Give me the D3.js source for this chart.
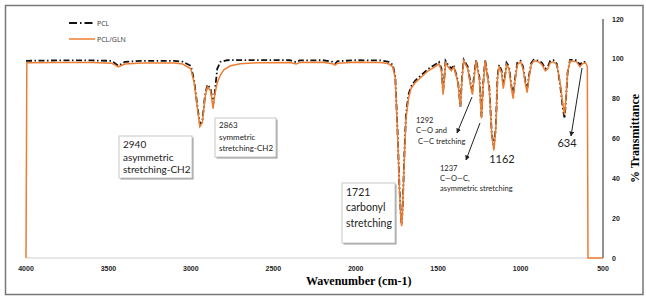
<!DOCTYPE html>
<html>
<head>
<meta charset="utf-8">
<script src="https://cdn.jsdelivr.net/npm/d3@7"></script>
<style>
  body { margin: 0; background: #fff; }
  svg { display: block; }
</style>
</head>
<body>
<div id="chart"></div>
<script>
// wavenumber (cm-1) / % transmittance
var glnWave = [4000, 3995, 3800, 3600, 3480, 3440, 3400, 3300, 3100, 3050, 3000, 2980, 2960, 2945, 2930, 2915, 2900, 2880, 2865, 2855, 2840, 2820, 2800, 2760, 2700, 2600, 2400, 2360, 2340, 2200, 2140, 2125, 2110, 2000, 1850, 1800, 1775, 1760, 1745, 1735, 1725, 1721, 1715, 1705, 1695, 1680, 1665, 1640, 1600, 1560, 1520, 1495, 1480, 1470, 1460, 1455, 1440, 1420, 1405, 1395, 1380, 1365, 1355, 1345, 1320, 1300, 1292, 1280, 1270, 1250, 1237, 1228, 1215, 1190, 1175, 1162, 1150, 1140, 1130, 1115, 1105, 1095, 1085, 1070, 1055, 1045, 1035, 1020, 1000, 985, 970, 960, 950, 935, 920, 890, 870, 850, 835, 820, 800, 780, 760, 745, 733, 725, 715, 700, 660, 640, 625, 605, 595, 591, 500];
var glnValues = [0, 98, 98.2, 98.1, 97.8, 96, 97.4, 97.9, 97.9, 97.4, 95, 88, 75, 66, 68, 80, 86, 84, 75, 82, 88, 92, 94.5, 96.5, 97.5, 98, 98.2, 97.4, 98.2, 98.3, 97.5, 96.8, 97.8, 98.3, 98.2, 97.5, 96, 90, 60, 35, 18, 16, 25, 50, 70, 80, 85, 88, 91, 94, 96, 97.5, 94, 82, 92, 98, 96, 94, 96, 93, 88, 76, 90, 99, 95, 85, 82, 92, 99, 90, 70, 85, 99, 85, 62, 54, 65, 90, 96, 93, 85, 90, 97, 95, 85, 80, 88, 97, 98.5, 95, 87, 83, 90, 97, 99, 98.5, 97, 94, 95, 98, 98.5, 97, 88, 78, 72, 80, 93, 99, 98.5, 96, 97.5, 98, 96, 0, 0];

var pclWave = [4000, 3800, 3600, 3480, 3440, 3400, 3300, 3100, 3050, 3000, 2980, 2960, 2945, 2930, 2915, 2900, 2880, 2865, 2855, 2840, 2820, 2780, 2600, 2400, 2360, 2340, 2200, 2140, 2125, 2110, 2000, 1850, 1800, 1775, 1760, 1745, 1735, 1725, 1721, 1715, 1705, 1695, 1680, 1665, 1640, 1600, 1560, 1520, 1495, 1480, 1470, 1460, 1455, 1440, 1420, 1405, 1395, 1380, 1365, 1355, 1345, 1320, 1300, 1292, 1280, 1270, 1250, 1237, 1228, 1215, 1190, 1175, 1162, 1150, 1140, 1130, 1115, 1105, 1095, 1085, 1070, 1055, 1045, 1035, 1020, 1000, 985, 970, 960, 950, 935, 920, 890, 870, 850, 835, 820, 800, 780, 760, 745, 733, 725, 715, 700, 660, 640, 625, 598];
var pclValues = [99, 99.2, 99.2, 99, 96.5, 98.5, 99, 99, 98.6, 96.5, 89, 76, 67, 69, 81, 87, 85, 77, 83, 95, 98.5, 99.3, 99.4, 99.3, 98.3, 99.2, 99.3, 98.5, 97.5, 98.8, 99.3, 99.2, 98.5, 97, 91, 61, 36, 19, 17, 26, 52, 72, 82, 86, 89, 92, 95, 97, 98.5, 95, 84, 93, 99, 97, 95, 97, 93.5, 89, 76, 91, 99.5, 96, 86, 84, 93, 99.5, 91, 71, 86, 99.5, 86, 63, 55, 66, 91, 97, 94, 87, 91, 98, 96, 86, 82, 89, 98, 99, 96, 88, 85, 91, 98, 99.5, 99, 98, 95, 96, 99, 99.3, 97.5, 87, 76, 70, 79, 93, 99.5, 99.3, 97, 98.5, 98.5];

var xTicks = [4000, 3500, 3000, 2500, 2000, 1500, 1000, 500];
var yTicks = [0, 20, 40, 60, 80, 100, 120];

var width = 646, height = 297;

var svg = d3.select("#chart").append("svg")
    .attr("width", width)
    .attr("height", height);

// outer frame
svg.append("rect")
    .attr("x", 5.5).attr("y", 5.5)
    .attr("width", 637.5).attr("height", 289)
    .attr("fill", "none")
    .attr("stroke", "#777")
    .attr("stroke-width", 1.5);

var x = d3.scaleLinear().domain([4000, 500]).range([26, 603]);
var y = d3.scaleLinear().domain([0, 120]).range([258, 19]);

// bottom axis line and right axis line
svg.append("line")
    .attr("x1", x(4000)).attr("x2", x(500))
    .attr("y1", y(0)).attr("y2", y(0))
    .attr("stroke", "#d0d0d0").attr("stroke-width", 1);

svg.append("line")
    .attr("x1", x(500)).attr("x2", x(500))
    .attr("y1", y(0)).attr("y2", y(120))
    .attr("stroke", "#222").attr("stroke-width", 1);

svg.selectAll("text.xtick")
    .data(xTicks)
    .enter().append("text")
    .attr("class", "xtick")
    .attr("x", function(d) { return x(d); })
    .attr("y", 271)
    .attr("text-anchor", "middle")
    .attr("font-family", "Liberation Sans, Arial, sans-serif")
    .attr("font-weight", "bold")
    .attr("font-size", "7px")
    .attr("fill", "#222")
    .text(function(d) { return d; });

svg.selectAll("text.ytick")
    .data(yTicks)
    .enter().append("text")
    .attr("class", "ytick")
    .attr("x", 612)
    .attr("y", function(d) { return y(d) + 2.5; })
    .attr("font-family", "Liberation Sans, Arial, sans-serif")
    .attr("font-weight", "bold")
    .attr("font-size", "7px")
    .attr("fill", "#222")
    .text(function(d) { return d; });

svg.append("text")
    .attr("x", x(2000) + 3)
    .attr("y", 285)
    .attr("text-anchor", "middle")
    .attr("font-family", "Liberation Serif, Times New Roman, serif")
    .attr("font-weight", "bold")
    .attr("font-size", "12px")
    .text("Wavenumber (cm-1)");

svg.append("text")
    .attr("transform", "translate(639," + y(60) + ") rotate(-90)")
    .attr("text-anchor", "middle")
    .attr("font-family", "Liberation Serif, Times New Roman, serif")
    .attr("font-weight", "bold")
    .attr("font-size", "12px")
    .text("% Transmittance");

var line = d3.line()
    .x(function(d) { return x(d[0]); })
    .y(function(d) { return y(d[1]); });

svg.append("path")
    .datum(d3.zip(pclWave, pclValues))
    .attr("d", line)
    .attr("fill", "none")
    .attr("stroke", "#111")
    .attr("stroke-width", 1.8)
    .attr("stroke-dasharray", "6,2.5,1.5,2.5");

svg.append("path")
    .datum(d3.zip(glnWave, glnValues))
    .attr("d", line)
    .attr("fill", "none")
    .attr("stroke", "#ed7d31")
    .attr("stroke-width", 1.5);

// legend
var legend = svg.append("g");
legend.append("line")
    .attr("x1", 69).attr("x2", 95).attr("y1", 23).attr("y2", 23)
    .attr("stroke", "#111").attr("stroke-width", 1.8)
    .attr("stroke-dasharray", "8,3,1.5,3");
legend.append("line")
    .attr("x1", 69).attr("x2", 95).attr("y1", 39).attr("y2", 39)
    .attr("stroke", "#ed7d31").attr("stroke-width", 1.5);
legend.append("text").attr("x", 97).attr("y", 25.5).text("PCL");
legend.append("text").attr("x", 97).attr("y", 41.5).text("PCL/GLN");
legend.selectAll("text")
    .attr("font-family", "Open Sans, Liberation Sans, sans-serif")
    .attr("font-size", "7px")
    .attr("fill", "#333");

// annotation boxes
var boxes = [
  {x: 119, y: 136, w: 73, h: 42, size: 10, lines: ["2940", "asymmetric", "stretching-CH2"], lh: 12.5},
  {x: 215, y: 118, w: 61, h: 39, size: 8, lines: ["2863", "symmetric", "stretching-CH2"], lh: 11.5},
  {x: 342, y: 183, w: 53, h: 60, size: 10.5, lines: ["1721", "carbonyl", "stretching"], lh: 15.5}
];

boxes.forEach(function(b) {
  var g = svg.append("g");
  g.append("rect")
      .attr("x", b.x + 1.5).attr("y", b.y + 1.5)
      .attr("width", b.w).attr("height", b.h)
      .attr("fill", "#9a9a9a");
  g.append("rect")
      .attr("x", b.x).attr("y", b.y)
      .attr("width", b.w).attr("height", b.h)
      .attr("fill", "#fff")
      .attr("stroke", "#c8c8c8").attr("stroke-width", 1);
  b.lines.forEach(function(t, i) {
    g.append("text")
        .attr("x", b.x + 4)
        .attr("y", b.y + b.size + 2 + i * b.lh)
        .attr("font-family", "Lato, Open Sans, sans-serif")
        .attr("font-size", b.size + "px")
        .attr("fill", "#222")
        .text(t);
  });
});

// free text labels
var labels = [
  {x: 416, y: 123, size: 7.5, t: "1292"},
  {x: 416, y: 133, size: 7.5, t: "C\u2014O and"},
  {x: 418, y: 144, size: 7.5, t: "C\u2014C tretching"},
  {x: 440, y: 171, size: 7.5, t: "1237"},
  {x: 440, y: 181, size: 7.5, t: "C\u2014O\u2014C,"},
  {x: 440, y: 191, size: 7.5, t: "asymmetric  stretching"},
  {x: 502, y: 163, size: 11, t: "1162", anchor: "middle"},
  {x: 567, y: 147, size: 11, t: "634", anchor: "middle"}
];

svg.selectAll("text.note")
    .data(labels)
    .enter().append("text")
    .attr("class", "note")
    .attr("x", function(d) { return d.x; })
    .attr("y", function(d) { return d.y; })
    .attr("text-anchor", function(d) { return d.anchor || "start"; })
    .attr("font-family", "Lato, Open Sans, sans-serif")
    .attr("font-size", function(d) { return d.size + "px"; })
    .attr("fill", "#222")
    .text(function(d) { return d.t; });

// arrows
svg.append("defs").append("marker")
    .attr("id", "head")
    .attr("viewBox", "0 0 10 10")
    .attr("refX", 9).attr("refY", 5)
    .attr("markerWidth", 5).attr("markerHeight", 5)
    .attr("orient", "auto")
    .append("path")
    .attr("d", "M0,0 L10,5 L0,10 z")
    .attr("fill", "#222");

var arrows = [
  [472, 97, 457, 133],
  [480, 123, 466, 160],
  [582, 68, 571, 136]
];

svg.selectAll("line.arrow")
    .data(arrows)
    .enter().append("line")
    .attr("class", "arrow")
    .attr("x1", function(d) { return d[0]; })
    .attr("y1", function(d) { return d[1]; })
    .attr("x2", function(d) { return d[2]; })
    .attr("y2", function(d) { return d[3]; })
    .attr("stroke", "#222")
    .attr("stroke-width", 1)
    .attr("marker-end", "url(#head)");
</script>
</body>
</html>
